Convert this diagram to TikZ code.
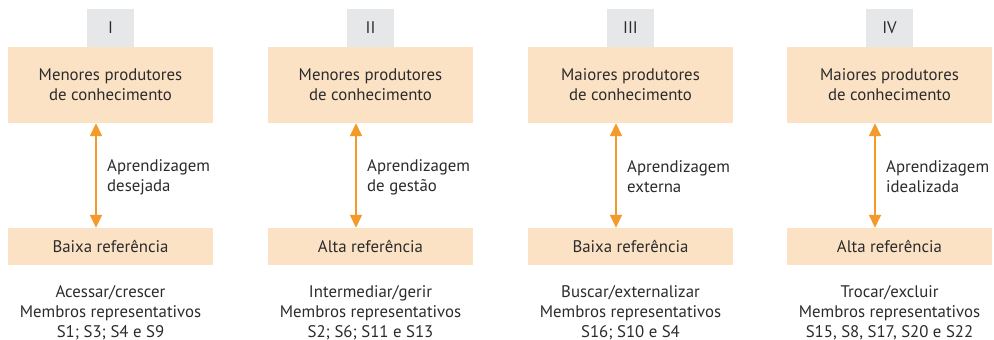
\documentclass[tikz,border=0pt]{standalone}
\usepackage{fontspec}
\setmainfont{PT Sans}
\usetikzlibrary{arrows.meta}
\definecolor{peach}{HTML}{FCE2C4}
\definecolor{lgray}{HTML}{E6E7E8}
\definecolor{orng}{HTML}{F39A2B}
\definecolor{txt}{HTML}{2B2B2B}
\begin{document}
\begin{tikzpicture}[x=1pt,y=-1pt,
  every node/.style={text=txt,font=\fontsize{16.8}{20}\selectfont},
  numbox/.style={fill=lgray,minimum width=47pt,minimum height=38pt,inner sep=0pt},
  topbox/.style={fill=peach,minimum width=205pt,minimum height=76pt,inner sep=0pt,align=center},
  botbox/.style={fill=peach,minimum width=205pt,minimum height=37pt,inner sep=0pt},
  lbl/.style={align=left,anchor=west,inner sep=0pt},
  foot/.style={align=center,anchor=north,inner sep=0pt,font=\fontsize{16.8}{20}\selectfont},
  link/.style={draw=orng,line width=1.6pt,{Triangle[width=12pt,length=13pt]}-{Triangle[width=12pt,length=13pt]},fill=orng}]
\useasboundingbox (0,0) rectangle (994,340);
\foreach \i/\cx/\num/\top/\bot/\lab/\foota/\footb in {
  0/110.5/I/Menores/Baixa/desejada/Acessar\slash crescer/{S1; S3; S4 e S9},
  1/370.5/II/Menores/Alta/de gestão/Intermediar\slash gerir/{S2; S6; S11 e S13},
  2/630.5/III/Maiores/Baixa/externa/Buscar\slash externalizar/{S16; S10 e S4},
  3/889.5/IV/Maiores/Alta/idealizada/Trocar\slash excluir/{S15, S8, S17, S20 e S22}}{
  \node[numbox] (n\i) at (\cx,28) {\num};
  \node[topbox] (t\i) at (\cx,85) {\top{} produtores\\de conhecimento};
  \node[botbox] (b\i) at (\cx,246.5) {\bot{} referência};
  \draw[link] ([xshift=-14.5pt]t\i.south) -- ([xshift=-14.5pt]b\i.north);
  \node[lbl] (l\i) at (\cx-3.5,177) {Aprendizagem\\\lab};
  \node[foot] (f\i) at (\cx,285) {\foota\\Membros representativos\\\footb};
}
\end{tikzpicture}
\end{document}
